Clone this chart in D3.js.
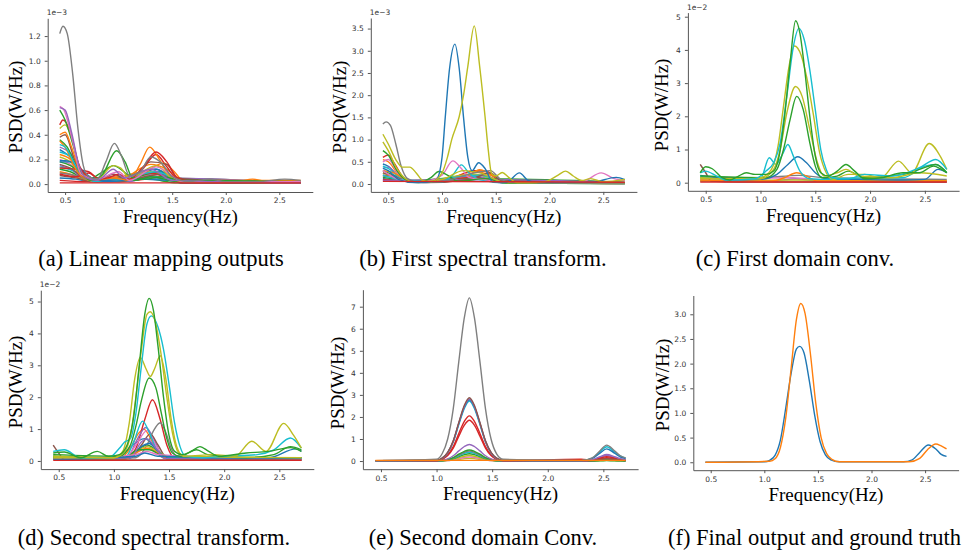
<!DOCTYPE html>
<html>
<head>
<meta charset="utf-8">
<script src="https://cdn.jsdelivr.net/npm/d3@7"></script>
<style>
  body { margin: 0; background: #fff; }
  svg { display: block; }
</style>
</head>
<body>
<svg id="fig" width="964" height="550"></svg>
<script>
// channel spectra: [channel, [[freq, psd], ...]]
// psd in the units shown on each axis (1e-3, 1e-3, 1e-2, 1e-2, 1, 1)

const freqTicks = [0.5, 1.0, 1.5, 2.0, 2.5];

const panelA = [
  [0, [[0.45,0.05],[0.6,0.04],[0.75,0.02],[1.0,0.03],[1.3,0.06],[1.6,0.01],[2.7,0.01]]],
  [1, [[0.45,0.1],[0.55,0.08],[0.7,0.03],[0.95,0.02],[1.35,0.08],[1.6,0.02],[2.7,0.01]]],
  [2, [[0.45,0.12],[0.55,0.1],[0.7,0.04],[1.0,0.05],[1.3,0.04],[1.55,0.01],[2.7,0.01]]],
  [3, [[0.45,0.03],[0.7,0.02],[1.0,0.02],[1.4,0.05],[1.6,0.01],[2.7,0.01]]],
  [4, [[0.45,0.15],[0.55,0.12],[0.7,0.04],[0.95,0.06],[1.1,0.02],[1.35,0.09],[1.6,0.01],[2.7,0.01]]],
  [5, [[0.45,0.07],[0.6,0.05],[0.75,0.02],[1.3,0.04],[2.7,0.01]]],
  [6, [[0.45,0.2],[0.55,0.16],[0.7,0.05],[0.85,0.02],[1.0,0.04],[1.3,0.07],[1.6,0.01],[2.7,0.02]]],
  [7, [[0.45,0.09],[0.6,0.07],[0.8,0.02],[1.35,0.05],[2.7,0.01]]],
  [8, [[0.45,0.22],[0.55,0.18],[0.68,0.05],[0.85,0.03],[1.0,0.06],[1.3,0.1],[1.55,0.02],[2.7,0.01]]],
  [9, [[0.45,0.14],[0.6,0.1],[0.75,0.03],[1.0,0.02],[1.35,0.06],[1.6,0.01],[2.7,0.01]]],
  [0, [[0.45,0.28],[0.55,0.22],[0.68,0.08],[0.8,0.03],[1.0,0.05],[1.35,0.12],[1.55,0.02],[2.7,0.01]]],
  [1, [[0.45,0.24],[0.55,0.2],[0.66,0.07],[0.78,0.02],[1.05,0.05],[1.3,0.16],[1.45,0.12],[1.6,0.02],[2.7,0.02]]],
  [2, [[0.45,0.18],[0.55,0.15],[0.68,0.06],[0.8,0.02],[1.1,0.04],[1.38,0.1],[1.6,0.02],[2.7,0.01]]],
  [3, [[0.45,0.13],[0.6,0.12],[0.72,0.1],[0.82,0.04],[1.0,0.03],[1.3,0.09],[1.6,0.01],[2.7,0.01]]],
  [4, [[0.45,0.3],[0.55,0.25],[0.68,0.08],[0.82,0.03],[1.3,0.05],[2.7,0.01]]],
  [5, [[0.45,0.16],[0.55,0.13],[0.7,0.04],[1.0,0.02],[1.4,0.08],[1.6,0.01],[2.7,0.01]]],
  [9, [[0.45,0.26],[0.55,0.22],[0.66,0.06],[0.8,0.02],[1.3,0.04],[2.7,0.01]]],
  [0, [[0.45,0.19],[0.5,0.19],[0.6,0.16],[0.72,0.06],[0.9,0.02],[1.2,0.04],[1.45,0.03],[2.7,0.01]]],
  [2, [[0.45,0.36],[0.52,0.3],[0.62,0.12],[0.72,0.04],[0.85,0.1],[0.95,0.15],[1.05,0.1],[1.15,0.03],[1.3,0.06],[1.55,0.02],[2.7,0.01]]],
  [0, [[0.45,0.18],[0.55,0.18],[0.65,0.12],[0.75,0.05],[0.9,0.03],[1.05,0.05],[1.35,0.12],[1.55,0.03],[2.7,0.01]]],
  [3, [[0.45,0.08],[0.6,0.06],[0.72,0.09],[0.8,0.05],[1.0,0.04],[1.2,0.1],[1.35,0.24],[1.45,0.14],[1.55,0.04],[2.7,0.02]]],
  [1, [[0.45,0.35],[0.5,0.3],[0.6,0.12],[0.7,0.04],[1.0,0.06],[1.2,0.08],[1.42,0.17],[1.52,0.1],[1.6,0.03],[2.55,0.03],[2.7,0.03]]],
  [9, [[0.45,0.32],[0.5,0.3],[0.6,0.15],[0.7,0.04],[1.0,0.04],[1.35,0.1],[1.6,0.02],[2.7,0.01]]],
  [5, [[0.45,0.38],[0.5,0.4],[0.58,0.22],[0.68,0.05],[0.8,0.03],[0.95,0.08],[1.1,0.03],[1.3,0.18],[1.45,0.16],[1.55,0.05],[1.85,0.03],[2.7,0.02]]],
  [1, [[0.45,0.4],[0.5,0.42],[0.56,0.3],[0.65,0.08],[0.75,0.03],[0.95,0.05],[1.1,0.03],[1.2,0.16],[1.29,0.3],[1.38,0.2],[1.48,0.06],[1.6,0.02],[2.1,0.02],[2.25,0.04],[2.4,0.02],[2.55,0.03],[2.7,0.02]]],
  [8, [[0.45,0.45],[0.5,0.48],[0.56,0.38],[0.65,0.1],[0.8,0.04],[0.95,0.15],[1.02,0.13],[1.1,0.05],[1.35,0.15],[1.5,0.05],[1.7,0.02],[2.7,0.01]]],
  [3, [[0.45,0.48],[0.48,0.52],[0.55,0.42],[0.62,0.18],[0.7,0.07],[0.8,0.04],[0.9,0.05],[1.0,0.08],[1.1,0.04],[1.22,0.13],[1.35,0.26],[1.45,0.18],[1.55,0.05],[1.7,0.02],[2.7,0.01]]],
  [2, [[0.45,0.6],[0.5,0.52],[0.58,0.3],[0.65,0.1],[0.75,0.03],[0.85,0.08],[0.98,0.27],[1.06,0.18],[1.13,0.05],[1.25,0.04],[1.4,0.06],[1.6,0.03],[1.75,0.03],[2.7,0.02]]],
  [6, [[0.45,0.63],[0.49,0.6],[0.57,0.35],[0.65,0.08],[0.8,0.04],[1.0,0.1],[1.1,0.03],[1.35,0.14],[1.6,0.02],[2.7,0.02]]],
  [4, [[0.45,0.62],[0.5,0.6],[0.56,0.42],[0.63,0.15],[0.7,0.05],[0.8,0.03],[0.95,0.12],[1.05,0.05],[1.3,0.12],[1.5,0.03],[2.7,0.01]]],
  [7, [[0.45,1.22],[0.48,1.28],[0.52,1.22],[0.57,0.9],[0.62,0.45],[0.67,0.15],[0.72,0.06],[0.8,0.04],[0.88,0.18],[0.96,0.33],[1.03,0.22],[1.1,0.07],[1.2,0.1],[1.3,0.22],[1.4,0.17],[1.5,0.06],[1.65,0.02],[1.85,0.04],[2.0,0.02],[2.3,0.02],[2.55,0.04],[2.7,0.03]]],
  [3, [[0.45,0.01],[2.7,0.01]]]
];

const panelB = [
  [0, [[0.45,0.45],[0.5,0.4],[0.6,0.15],[0.7,0.05],[0.95,0.1],[1.35,0.2],[1.6,0.02],[2.7,0.02]]],
  [1, [[0.45,0.55],[0.5,0.5],[0.6,0.2],[0.72,0.06],[1.0,0.08],[1.3,0.28],[1.45,0.2],[1.6,0.03],[2.7,0.02]]],
  [2, [[0.45,0.3],[0.55,0.2],[0.7,0.05],[0.97,0.12],[1.35,0.15],[1.6,0.02],[2.7,0.01]]],
  [3, [[0.45,0.6],[0.5,0.65],[0.56,0.45],[0.65,0.12],[0.75,0.05],[1.0,0.05],[1.3,0.3],[1.42,0.28],[1.55,0.05],[2.7,0.01]]],
  [4, [[0.45,0.35],[0.5,0.38],[0.6,0.15],[0.72,0.04],[1.3,0.18],[1.6,0.02],[2.7,0.02]]],
  [5, [[0.45,0.2],[0.55,0.18],[0.7,0.05],[1.35,0.12],[1.6,0.02],[2.7,0.01]]],
  [6, [[0.45,0.5],[0.5,0.55],[0.6,0.2],[0.72,0.05],[1.25,0.15],[1.6,0.02],[2.7,0.02]]],
  [8, [[0.45,0.25],[0.6,0.12],[0.75,0.04],[1.3,0.22],[1.6,0.02],[2.7,0.01]]],
  [9, [[0.45,0.4],[0.5,0.35],[0.6,0.15],[0.72,0.05],[1.35,0.2],[1.6,0.02],[2.7,0.01]]],
  [0, [[0.45,0.12],[0.7,0.06],[1.0,0.05],[1.35,0.1],[2.7,0.03]]],
  [1, [[0.45,0.3],[0.55,0.25],[0.65,0.12],[0.8,0.04],[1.2,0.12],[1.35,0.32],[1.5,0.15],[1.6,0.03],[2.7,0.02]]],
  [2, [[0.45,0.15],[0.7,0.08],[1.3,0.12],[2.7,0.04]]],
  [3, [[0.45,0.1],[0.8,0.05],[1.3,0.15],[1.5,0.05],[2.7,0.02]]],
  [4, [[0.45,0.08],[1.4,0.1],[2.7,0.03]]],
  [7, [[0.45,0.18],[0.6,0.12],[0.8,0.04],[1.2,0.08],[1.4,0.2],[1.55,0.05],[2.7,0.02]]],
  [5, [[0.45,0.25],[0.52,0.2],[0.65,0.08],[0.85,0.03],[1.25,0.1],[1.45,0.25],[1.55,0.08],[2.7,0.02]]],
  [9, [[0.45,0.2],[0.6,0.1],[1.0,0.05],[1.1,0.2],[1.18,0.43],[1.25,0.25],[1.35,0.1],[1.6,0.02],[2.7,0.02]]],
  [6, [[0.45,0.3],[0.6,0.1],[0.8,0.04],[1.0,0.2],[1.1,0.52],[1.18,0.35],[1.25,0.15],[1.4,0.1],[1.6,0.03],[2.3,0.05],[2.48,0.25],[2.6,0.12],[2.7,0.08]]],
  [2, [[0.45,0.75],[0.5,0.65],[0.58,0.3],[0.66,0.1],[0.78,0.03],[0.9,0.15],[0.97,0.28],[1.05,0.2],[1.15,0.06],[1.4,0.12],[1.6,0.02],[2.7,0.02]]],
  [8, [[0.45,0.95],[0.5,0.75],[0.58,0.35],[0.66,0.12],[0.75,0.04],[1.0,0.1],[1.2,0.3],[1.35,0.25],[1.6,0.03],[2.7,0.02]]],
  [7, [[0.45,1.35],[0.48,1.4],[0.52,1.32],[0.57,0.9],[0.62,0.4],[0.68,0.12],[0.78,0.04],[1.0,0.06],[1.3,0.25],[1.45,0.3],[1.55,0.1],[1.7,0.03],[2.7,0.02]]],
  [0, [[0.45,0.35],[0.5,0.3],[0.6,0.1],[0.75,0.03],[0.9,0.04],[0.95,0.1],[1.0,0.6],[1.03,1.5],[1.07,2.6],[1.12,3.15],[1.16,2.6],[1.2,1.5],[1.24,0.6],[1.28,0.3],[1.34,0.48],[1.4,0.35],[1.47,0.05],[1.6,0.04],[1.72,0.25],[1.8,0.08],[1.9,0.03],[2.4,0.04],[2.62,0.15],[2.7,0.1]]],
  [8, [[0.45,1.12],[0.5,0.9],[0.57,0.55],[0.63,0.38],[0.7,0.38],[0.76,0.25],[0.82,0.08],[0.9,0.05],[1.0,0.25],[1.05,0.6],[1.09,1.0],[1.16,1.52],[1.2,2.0],[1.24,2.65],[1.3,3.56],[1.35,2.65],[1.4,1.52],[1.43,0.77],[1.46,0.24],[1.5,0.18],[1.56,0.26],[1.62,0.15],[1.7,0.03],[1.95,0.05],[2.08,0.2],[2.15,0.29],[2.22,0.18],[2.3,0.08],[2.38,0.12],[2.5,0.05],[2.7,0.1]]],
  [3, [[0.45,0.06],[2.7,0.04]]]
];

const panelC = [
  [7, [[0.45,0.15],[1.0,0.15],[1.35,0.22],[1.6,0.15],[2.7,0.1]]],
  [4, [[0.45,0.06],[1.1,0.05],[1.32,0.12],[1.55,0.04],[2.7,0.03]]],
  [6, [[0.45,0.1],[1.3,0.15],[1.6,0.06],[2.7,0.05]]],
  [8, [[0.45,0.05],[1.3,0.08],[2.7,0.06]]],
  [5, [[0.45,0.55],[0.5,0.3],[0.55,0.05],[0.8,0.02],[2.7,0.02]]],
  [1, [[0.45,0.08],[1.1,0.05],[1.22,0.15],[1.33,0.3],[1.42,0.2],[1.52,0.05],[2.7,0.05]]],
  [0, [[0.45,0.22],[0.55,0.18],[0.7,0.08],[1.0,0.1],[1.15,0.25],[1.25,0.55],[1.34,0.78],[1.42,0.6],[1.5,0.3],[1.6,0.12],[1.9,0.1],[2.3,0.08],[2.5,0.1],[2.62,0.4],[2.7,0.3]]],
  [9, [[0.45,0.2],[0.6,0.12],[1.0,0.12],[1.08,0.75],[1.14,0.55],[1.2,0.85],[1.25,1.15],[1.3,0.8],[1.36,0.35],[1.45,0.12],[1.6,0.1],[1.95,0.15],[2.3,0.15],[2.5,0.5],[2.6,0.55],[2.7,0.3]]],
  [2, [[0.45,0.2],[1.05,0.15],[1.15,0.4],[1.21,1.0],[1.27,1.9],[1.33,2.6],[1.39,2.2],[1.45,1.2],[1.5,0.5],[1.56,0.15],[1.7,0.2],[1.8,0.35],[1.95,0.15],[2.3,0.25],[2.45,0.4],[2.6,0.55],[2.7,0.3]]],
  [8, [[0.45,0.12],[1.0,0.12],[1.12,0.4],[1.18,1.0],[1.24,2.1],[1.32,2.9],[1.38,2.6],[1.45,1.6],[1.52,0.6],[1.58,0.2],[1.7,0.3],[1.78,0.4],[1.9,0.2],[2.2,0.15],[2.45,0.3],[2.7,0.2]]],
  [8, [[0.45,0.15],[0.6,0.12],[0.8,0.1],[1.0,0.15],[1.1,0.4],[1.16,1.1],[1.21,2.3],[1.26,3.5],[1.31,4.12],[1.37,3.85],[1.42,3.2],[1.48,2.1],[1.54,0.9],[1.6,0.3],[1.66,0.1],[1.8,0.25],[1.95,0.25],[2.1,0.15],[2.26,0.65],[2.38,0.3],[2.54,1.18],[2.64,0.8],[2.7,0.4]]],
  [9, [[0.45,0.3],[0.5,0.35],[0.6,0.2],[0.7,0.08],[0.95,0.12],[1.05,0.35],[1.12,0.6],[1.18,1.2],[1.24,2.6],[1.3,4.1],[1.35,4.65],[1.4,4.3],[1.45,3.4],[1.5,2.2],[1.55,1.0],[1.6,0.4],[1.65,0.15],[1.8,0.12],[1.95,0.25],[2.2,0.2],[2.45,0.45],[2.6,0.7],[2.7,0.4]]],
  [2, [[0.45,0.3],[0.5,0.48],[0.56,0.42],[0.65,0.15],[0.72,0.08],[0.8,0.2],[0.87,0.3],[0.95,0.25],[1.05,0.25],[1.12,0.35],[1.17,0.8],[1.22,2.0],[1.27,3.6],[1.32,4.88],[1.36,4.5],[1.4,3.5],[1.45,2.0],[1.5,0.8],[1.55,0.3],[1.62,0.2],[1.7,0.35],[1.78,0.55],[1.86,0.35],[1.95,0.12],[2.1,0.15],[2.3,0.3],[2.45,0.3],[2.58,0.5],[2.65,0.4],[2.7,0.3]]],
  [3, [[0.45,0.02],[2.7,0.02]]]
];

const panelD = [
  [0, [[0.45,0.15],[0.6,0.1],[1.0,0.1],[1.28,0.7],[1.38,0.4],[1.5,0.1],[2.4,0.1],[2.65,0.38],[2.7,0.3]]],
  [1, [[0.45,0.1],[1.05,0.08],[1.15,0.4],[1.22,0.85],[1.27,1.0],[1.35,0.6],[1.42,0.15],[1.5,0.05],[2.7,0.05]]],
  [2, [[0.45,0.15],[1.1,0.1],[1.2,0.3],[1.3,0.5],[1.4,0.3],[1.5,0.1],[2.7,0.1]]],
  [3, [[0.45,0.08],[1.1,0.08],[1.2,0.4],[1.28,1.3],[1.35,1.92],[1.42,1.3],[1.48,0.5],[1.55,0.1],[2.7,0.05]]],
  [4, [[0.45,0.05],[1.12,0.1],[1.2,0.6],[1.29,1.05],[1.36,0.7],[1.43,0.2],[1.5,0.05],[2.7,0.03]]],
  [5, [[0.45,0.05],[1.15,0.1],[1.25,0.5],[1.33,0.85],[1.4,0.5],[1.48,0.1],[2.7,0.03]]],
  [6, [[0.45,0.08],[1.1,0.08],[1.2,0.5],[1.3,0.95],[1.38,0.5],[1.46,0.1],[2.7,0.05]]],
  [7, [[0.45,0.05],[1.2,0.1],[1.3,0.5],[1.36,0.95],[1.42,1.2],[1.47,0.9],[1.52,0.4],[1.58,0.1],[2.7,0.05]]],
  [8, [[0.45,0.12],[1.1,0.1],[1.2,0.3],[1.3,0.45],[1.4,0.3],[1.5,0.12],[2.7,0.1]]],
  [9, [[0.45,0.1],[1.1,0.1],[1.18,0.6],[1.26,1.25],[1.32,0.9],[1.38,0.4],[1.45,0.1],[2.7,0.05]]],
  [0, [[0.45,0.08],[1.15,0.1],[1.25,0.45],[1.32,0.55],[1.4,0.3],[1.5,0.08],[2.7,0.05]]],
  [1, [[0.45,0.06],[1.1,0.05],[1.2,0.25],[1.3,0.4],[1.4,0.25],[1.5,0.05],[2.7,0.03]]],
  [2, [[0.45,0.1],[1.1,0.1],[1.22,0.35],[1.32,0.35],[1.45,0.15],[2.7,0.1]]],
  [4, [[0.45,0.05],[1.15,0.1],[1.25,0.6],[1.3,0.7],[1.38,0.4],[1.46,0.08],[2.7,0.03]]],
  [6, [[0.45,0.05],[1.2,0.2],[1.3,0.3],[1.4,0.2],[2.7,0.05]]],
  [5, [[0.45,0.5],[0.5,0.25],[0.55,0.05],[0.8,0.03],[2.7,0.03]]],
  [0, [[0.45,0.05],[1.2,0.15],[1.28,0.25],[1.4,0.15],[2.7,0.08]]],
  [2, [[0.45,0.2],[1.05,0.15],[1.15,0.5],[1.2,1.1],[1.25,1.9],[1.32,2.6],[1.38,2.3],[1.43,1.5],[1.48,0.7],[1.53,0.25],[1.6,0.15],[1.75,0.35],[1.85,0.2],[2.2,0.1],[2.45,0.2],[2.6,0.45],[2.7,0.35]]],
  [8, [[0.45,0.1],[1.0,0.1],[1.08,0.3],[1.14,1.2],[1.19,2.6],[1.24,3.25],[1.29,2.9],[1.33,2.65],[1.37,2.9],[1.42,3.3],[1.47,2.6],[1.52,1.3],[1.57,0.45],[1.63,0.15],[2.7,0.1]]],
  [9, [[0.45,0.3],[0.55,0.35],[0.7,0.1],[0.95,0.1],[1.05,0.4],[1.1,0.6],[1.15,0.7],[1.2,1.5],[1.25,3.0],[1.3,4.3],[1.34,4.55],[1.4,4.2],[1.45,3.5],[1.5,2.4],[1.55,1.2],[1.6,0.45],[1.65,0.15],[1.8,0.1],[2.0,0.15],[2.3,0.2],[2.45,0.35],[2.6,0.72],[2.7,0.4]]],
  [8, [[0.45,0.15],[1.0,0.1],[1.1,0.3],[1.15,0.8],[1.2,2.0],[1.25,3.5],[1.3,4.6],[1.33,4.68],[1.38,4.3],[1.43,3.3],[1.48,2.0],[1.53,0.9],[1.58,0.3],[1.65,0.15],[1.9,0.2],[2.1,0.15],[2.25,0.62],[2.38,0.3],[2.54,1.18],[2.63,0.8],[2.7,0.4]]],
  [2, [[0.45,0.25],[0.55,0.28],[0.7,0.1],[0.85,0.3],[0.95,0.15],[1.05,0.2],[1.12,0.5],[1.18,1.4],[1.23,3.0],[1.28,4.6],[1.32,5.1],[1.36,4.7],[1.4,3.6],[1.45,2.0],[1.5,0.8],[1.55,0.3],[1.62,0.2],[1.7,0.3],[1.78,0.45],[1.86,0.3],[1.95,0.15],[2.2,0.25],[2.4,0.3],[2.6,0.42],[2.7,0.3]]],
  [3, [[0.45,0.02],[2.7,0.02]]]
];

// panel (e): every channel sampled on the same frequencies
const freqE = [0.45,1.0,1.05,1.1,1.15,1.2,1.25,1.295,1.34,1.39,1.44,1.49,1.54,1.6,2.3,2.4,2.47,2.53,2.6,2.65,2.7];
const panelEValues = [
  [8, [0.02,0.01,0.01,0.02,0.04,0.07,0.11,0.12,0.11,0.07,0.04,0.02,0.01,0.01,0.01,0.01,0.02,0.03,0.02,0.01,0.01]],
  [6, [0.02,0.01,0.01,0.02,0.06,0.11,0.16,0.18,0.16,0.11,0.06,0.02,0.01,0.01,0.01,0.01,0.03,0.05,0.03,0.02,0.01]],
  [8, [0.02,0.01,0.01,0.03,0.08,0.15,0.22,0.25,0.22,0.15,0.08,0.03,0.01,0.01,0.01,0.02,0.05,0.08,0.05,0.03,0.02]],
  [2, [0.02,0.01,0.01,0.04,0.11,0.2,0.29,0.33,0.29,0.2,0.11,0.04,0.01,0.01,0.01,0.01,0.01,0.02,0.01,0.01,0.01]],
  [9, [0.02,0.01,0.02,0.05,0.13,0.24,0.35,0.4,0.35,0.24,0.13,0.05,0.02,0.01,0.01,0.02,0.07,0.1,0.07,0.04,0.02]],
  [7, [0.02,0.01,0.02,0.06,0.14,0.27,0.4,0.45,0.4,0.27,0.14,0.06,0.02,0.01,0.01,0.02,0.08,0.12,0.08,0.04,0.02]],
  [2, [0.02,0.01,0.02,0.07,0.16,0.31,0.44,0.5,0.44,0.31,0.16,0.07,0.02,0.01,0.01,0.01,0.03,0.05,0.03,0.02,0.01]],
  [4, [0.02,0.01,0.03,0.1,0.24,0.46,0.66,0.75,0.66,0.46,0.24,0.1,0.03,0.01,0.01,0.05,0.16,0.25,0.16,0.09,0.05]],
  [3, [0.02,0.02,0.08,0.25,0.59,1.13,1.63,1.85,1.63,1.13,0.59,0.25,0.08,0.02,0.02,0.03,0.1,0.15,0.1,0.05,0.03]],
  [3, [0.02,0.02,0.09,0.28,0.66,1.25,1.8,2.05,1.8,1.25,0.66,0.28,0.09,0.02,0.08,0.04,0.13,0.2,0.13,0.07,0.04]],
  [9, [0.02,0.03,0.12,0.37,0.87,1.66,2.39,2.72,2.39,1.66,0.87,0.37,0.12,0.03,0.02,0.13,0.42,0.65,0.42,0.23,0.13]],
  [0, [0.02,0.03,0.12,0.38,0.89,1.7,2.45,2.78,2.45,1.7,0.89,0.38,0.12,0.03,0.02,0.11,0.36,0.55,0.36,0.19,0.11]],
  [4, [0.02,0.03,0.12,0.38,0.9,1.72,2.48,2.82,2.48,1.72,0.9,0.38,0.12,0.03,0.02,0.06,0.2,0.3,0.2,0.11,0.06]],
  [5, [0.02,0.03,0.13,0.39,0.92,1.75,2.53,2.87,2.53,1.75,0.92,0.39,0.13,0.03,0.02,0.02,0.07,0.1,0.07,0.04,0.02]],
  [7, [0.02,0.08,0.33,1.0,2.37,4.51,6.51,7.4,6.51,4.51,2.37,1.0,0.33,0.08,0.02,0.14,0.47,0.72,0.47,0.25,0.14]],
  [1, [0.03,0.03,0.03,0.03,0.03,0.03,0.03,0.03,0.03,0.03,0.03,0.03,0.03,0.03,0.03,0.03,0.03,0.03,0.03,0.03,0.03]]
];
const panelE = panelEValues.map(([ch, vals]) => [ch, freqE.map((f, i) => [f, vals[i]])]);

// panel (f): model output (blue) and ground truth (orange)
const panelF = [
  [0, [[0.45,0.0],[1.0,0.01],[1.05,0.04],[1.1,0.14],[1.15,0.45],[1.2,1.1],[1.25,1.8],[1.3,2.3],[1.33,2.35],[1.37,2.22],[1.42,1.65],[1.47,0.95],[1.52,0.42],[1.57,0.15],[1.62,0.05],[1.7,0.01],[2.3,0.01],[2.38,0.05],[2.45,0.2],[2.53,0.35],[2.6,0.27],[2.65,0.16],[2.7,0.12]]],
  [1, [[0.45,0.0],[1.05,0.02],[1.1,0.07],[1.15,0.3],[1.2,0.9],[1.25,1.9],[1.3,2.9],[1.34,3.22],[1.38,3.02],[1.43,2.2],[1.48,1.2],[1.53,0.5],[1.58,0.18],[1.63,0.06],[1.7,0.01],[2.35,0.01],[2.45,0.08],[2.52,0.25],[2.6,0.37],[2.65,0.33],[2.7,0.27]]]
];

const panels = [
  { series: panelA, left: 47.7, right: 312.8, top: 18.3, bottom: 192, yDomain: [-0.064, 1.344],
    yTicks: [0, 0.2, 0.4, 0.6, 0.8, 1.0, 1.2], fmt: '.1f', offset: '1e\u22123',
    labelX: 22, labelY: 107, caption: '(a) Linear mapping outputs', capX: 161, capY: 266 },
  { series: panelB, left: 370.8, right: 636.9, top: 18.0, bottom: 191.9, yDomain: [-0.178, 3.738],
    yTicks: [0, 0.5, 1.0, 1.5, 2.0, 2.5, 3.0, 3.5], fmt: '.1f', offset: '1e\u22123',
    labelX: 345.5, labelY: 107, caption: '(b) First spectral transform.', capX: 483, capY: 266 },
  { series: panelC, left: 687.9, right: 959.1, top: 12.6, bottom: 190.8, yDomain: [-0.244, 5.124],
    yTicks: [0, 1, 2, 3, 4, 5], fmt: 'd', offset: '1e\u22122',
    labelX: 668, labelY: 105, caption: '(c) First domain conv.', capX: 795, capY: 266 },
  { series: panelD, left: 40.8, right: 313.8, top: 290.2, bottom: 469.1, yDomain: [-0.255, 5.355],
    yTicks: [0, 1, 2, 3, 4, 5], fmt: 'd', offset: '1e\u22122',
    labelX: 22, labelY: 382, caption: '(d) Second spectral transform.', capX: 154, capY: 545 },
  { series: panelE, left: 362.9, right: 638.1, top: 289.7, bottom: 469.2, yDomain: [-0.37, 7.77],
    yTicks: [0, 1, 2, 3, 4, 5, 6, 7], fmt: 'd', offset: null,
    labelX: 343.5, labelY: 383, caption: '(e) Second domain Conv.', capX: 483, capY: 545 },
  { series: panelF, left: 693.3, right: 958.6, top: 295.5, bottom: 470.2, yDomain: [-0.161, 3.381],
    yTicks: [0, 0.5, 1.0, 1.5, 2.0, 2.5, 3.0], fmt: '.1f', offset: null,
    labelX: 668.5, labelY: 385, caption: '(f) Final output and ground truth', capX: 961, capY: 545, anchor: 'end' }
];

const tab10 = d3.schemeCategory10;
const svg = d3.select('#fig');

panels.forEach(p => {
  const g = svg.append('g');

  const x = d3.scaleLinear().domain([0.3375, 2.8125]).range([p.left, p.right]);
  const y = d3.scaleLinear().domain(p.yDomain).range([p.bottom, p.top]);

  const line = d3.line()
    .x(d => x(d[0]))
    .y(d => y(d[1]))
    .curve(d3.curveMonotoneX);

  g.selectAll('path.psd')
    .data(p.series)
    .enter()
    .append('path')
    .attr('class', 'psd')
    .attr('d', d => line(d[1]))
    .attr('fill', 'none')
    .attr('stroke', d => tab10[d[0] % 10])
    .attr('stroke-width', 1.4)
    .attr('stroke-linejoin', 'round');

  // axes, left + bottom spines only
  const xAxis = g.append('g')
    .attr('transform', `translate(0,${p.bottom})`)
    .call(d3.axisBottom(x).tickValues(freqTicks).tickFormat(d3.format('.1f'))
      .tickSize(3).tickSizeOuter(0).tickPadding(3));
  const yAxis = g.append('g')
    .attr('transform', `translate(${p.left},0)`)
    .call(d3.axisLeft(y).tickValues(p.yTicks).tickFormat(d3.format(p.fmt))
      .tickSize(3).tickSizeOuter(0).tickPadding(4));

  [xAxis, yAxis].forEach(a => {
    a.select('.domain').attr('stroke', '#555').attr('stroke-width', 1);
    a.selectAll('.tick line').attr('stroke', '#555');
    a.selectAll('.tick text')
      .attr('fill', '#333')
      .style('font-family', 'DejaVu Sans')
      .style('font-size', '7.5px');
  });

  if (p.offset) {
    g.append('text')
      .attr('x', p.left - 1)
      .attr('y', p.top - 3)
      .text(p.offset)
      .style('font-family', 'DejaVu Sans')
      .style('font-size', '7.5px')
      .style('fill', '#333');
  }

  g.append('text')
    .attr('transform', `translate(${p.labelX},${p.labelY}) rotate(-90)`)
    .attr('text-anchor', 'middle')
    .text('PSD(W/Hz)')
    .style('font-family', 'Liberation Serif')
    .style('font-size', '19px')
    .style('fill', '#000');

  g.append('text')
    .attr('x', (p.left + p.right) / 2)
    .attr('y', p.bottom + 31)
    .attr('text-anchor', 'middle')
    .text('Frequency(Hz)')
    .style('font-family', 'Liberation Serif')
    .style('font-size', '19px')
    .style('fill', '#000');

  svg.append('text')
    .attr('x', p.capX)
    .attr('y', p.capY)
    .attr('text-anchor', p.anchor || 'middle')
    .text(p.caption)
    .style('font-family', 'Liberation Serif')
    .style('font-size', '22.5px')
    .style('fill', '#000');
});
</script>
</body>
</html>
